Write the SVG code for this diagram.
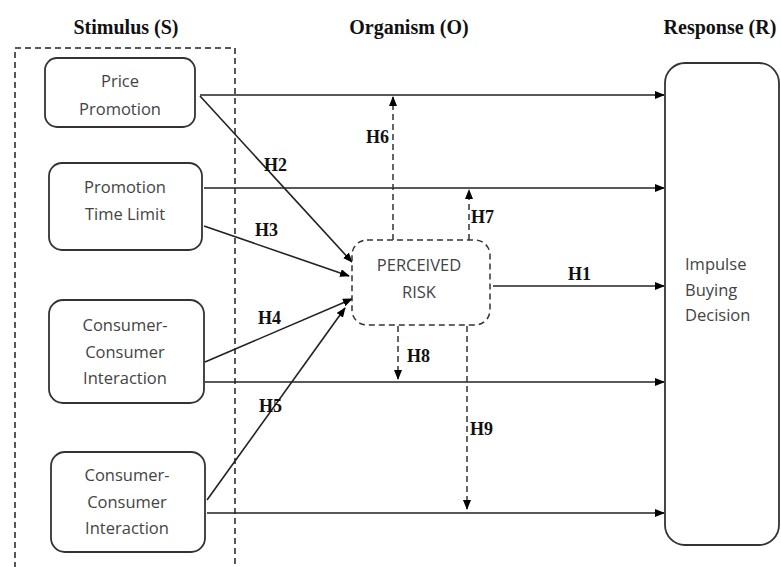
<svg xmlns="http://www.w3.org/2000/svg" width="781" height="567" viewBox="0 0 781 567">
<defs>
<marker id="ah" markerWidth="10" markerHeight="8" refX="9" refY="4" orient="auto" markerUnits="userSpaceOnUse">
<path d="M0,0 L10,4 L0,8 Z" fill="#000"/>
</marker>
<style>
.title{font-family:"Liberation Serif",serif;font-weight:bold;font-size:20px;fill:#111;text-anchor:middle}
.node{fill:#fff;stroke:#333;stroke-width:1.8}
.nt{font-family:"Open Sans","Noto Sans",sans-serif;font-size:16.5px;fill:#444;text-anchor:middle}
.ntl{font-family:"Open Sans","Noto Sans",sans-serif;font-size:16.5px;fill:#444;text-anchor:start}
.lbl{font-family:"Liberation Serif",serif;font-weight:bold;font-size:18px;fill:#111}
.line{stroke:#222;stroke-width:1.6;fill:none;marker-end:url(#ah)}
.dline{stroke:#333;stroke-width:1.5;fill:none;stroke-dasharray:6,4;marker-end:url(#ah)}
</style>
</defs>
<rect width="781" height="567" fill="#fff"/>
<g id="titles">
<text class="title" x="126" y="34">Stimulus (S)</text>
<text class="title" x="409" y="34">Organism (O)</text>
<text class="title" x="720" y="34">Response (R)</text>
</g>
<g id="stimulus-frame">
<rect x="15" y="48" width="220" height="530" fill="none" stroke="#222" stroke-width="1.5" stroke-dasharray="6,4"/>
</g>
<g id="connectors">
<line class="line" x1="200" y1="95" x2="664" y2="95"/>
<line class="line" x1="204" y1="188" x2="664" y2="188"/>
<line class="line" x1="493" y1="286" x2="664" y2="286"/>
<line class="line" x1="205" y1="382" x2="664" y2="382"/>
<line class="line" x1="207" y1="513" x2="664" y2="513"/>
<line class="line" x1="200" y1="96" x2="352" y2="262"/>
<line class="line" x1="204" y1="226" x2="349" y2="276"/>
<line class="line" x1="205" y1="362" x2="352" y2="299"/>
<line class="line" x1="207" y1="500" x2="345" y2="308"/>
<line class="dline" x1="393" y1="240" x2="393" y2="97"/>
<line class="dline" x1="469" y1="240" x2="469" y2="190"/>
<line class="dline" x1="398" y1="326" x2="398" y2="379"/>
<line class="dline" x1="467" y1="326" x2="467" y2="509"/>
</g>
<g id="labels">
<text class="lbl" x="264" y="171">H2</text>
<text class="lbl" x="255" y="236">H3</text>
<text class="lbl" x="366" y="143">H6</text>
<text class="lbl" x="471" y="223">H7</text>
<text class="lbl" x="568" y="280">H1</text>
<text class="lbl" x="258" y="324">H4</text>
<text class="lbl" x="259" y="412">H5</text>
<text class="lbl" x="407" y="362">H8</text>
<text class="lbl" x="470" y="435">H9</text>
</g>
<g id="price-promotion">
<rect class="node" x="45" y="58" width="150" height="69" rx="12"/>
<text class="nt" x="120" y="87">Price</text>
<text class="nt" x="120" y="115">Promotion</text>
</g>
<g id="promotion-time-limit">
<rect class="node" x="49" y="163" width="153" height="87" rx="13"/>
<text class="nt" x="125" y="193">Promotion</text>
<text class="nt" x="125" y="220">Time Limit</text>
</g>
<g id="consumer-interaction-1">
<rect class="node" x="49" y="300" width="155" height="103" rx="14"/>
<text class="nt" x="125" y="331">Consumer-</text>
<text class="nt" x="125" y="358">Consumer</text>
<text class="nt" x="125" y="384">Interaction</text>
</g>
<g id="consumer-interaction-2">
<rect class="node" x="51" y="452" width="154" height="100" rx="14"/>
<text class="nt" x="127" y="481">Consumer-</text>
<text class="nt" x="127" y="508">Consumer</text>
<text class="nt" x="127" y="534">Interaction</text>
</g>
<g id="perceived-risk">
<rect x="352" y="240" width="138" height="85" rx="15" fill="#fff" stroke="#333" stroke-width="1.5" stroke-dasharray="6,4"/>
<text class="nt" x="419" y="271">PERCEIVED</text>
<text class="nt" x="419" y="298">RISK</text>
</g>
<g id="impulse-buying-decision">
<rect class="node" x="665" y="63" width="114" height="482" rx="20"/>
<text class="ntl" x="685" y="270">Impulse</text>
<text class="ntl" x="685" y="296">Buying</text>
<text class="ntl" x="685" y="321">Decision</text>
</g>
</svg>
